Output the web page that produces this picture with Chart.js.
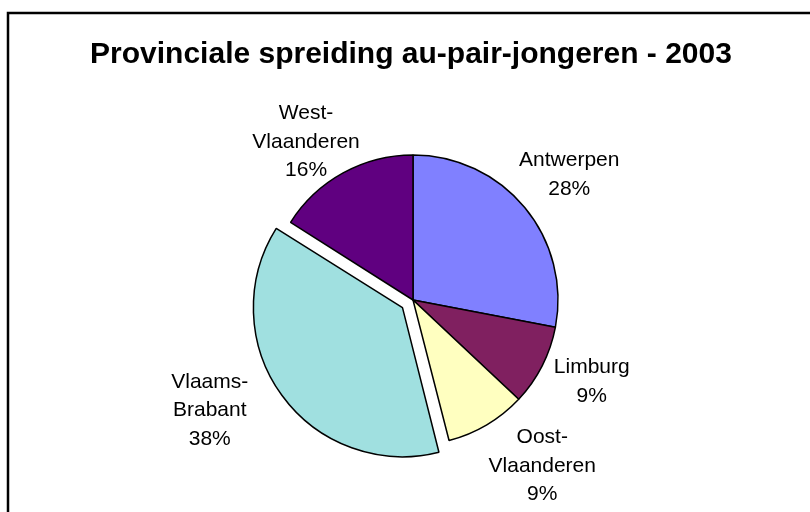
<!DOCTYPE html>
<html lang="nl">
<head>
<meta charset="UTF-8">
<title>Provinciale spreiding au-pair-jongeren - 2003</title>
<script src="https://cdn.jsdelivr.net/npm/chart.js"></script>
<style>
  html, body { margin: 0; padding: 0; background: #fff; }
  canvas { display: block; }
</style>
</head>
<body>
<canvas id="taart" width="810" height="512"></canvas>
<script>
// gegevens
const titel = 'Provinciale spreiding au-pair-jongeren - 2003';
const provincies = ['Antwerpen', 'Limburg', 'Oost-Vlaanderen', 'Vlaams-Brabant', 'West-Vlaanderen'];
const aandeel = [28, 9, 9, 38, 16];
const kleuren = ['#8080FF', '#802060', '#FFFFC0', '#A0E0E0', '#600080'];

const lettertype = '"Liberation Sans", Arial, sans-serif';

// kader + titel achter de grafiek
const kaderPlugin = {
    id: 'kader',
    beforeDraw(chart) {
        const ctx = chart.ctx;
        ctx.save();
        ctx.fillStyle = '#fff';
        ctx.fillRect(0, 0, chart.width, chart.height);
        ctx.strokeStyle = '#000';
        ctx.lineWidth = 2.5;
        ctx.beginPath();
        ctx.moveTo(8, chart.height + 2);
        ctx.lineTo(8, 13);
        ctx.lineTo(chart.width + 2, 13);
        ctx.stroke();
        ctx.fillStyle = '#000';
        ctx.font = 'bold 30px ' + lettertype;
        ctx.textAlign = 'center';
        ctx.textBaseline = 'alphabetic';
        ctx.fillText(titel, 411, 63);
        ctx.restore();
    }
};

// labels buiten de taart: naam + percentage
const labelPlugin = {
    id: 'sliceLabels',
    afterDatasetsDraw(chart, args, opts) {
        const ctx = chart.ctx;
        const meta = chart.getDatasetMeta(0);
        const totaal = aandeel.reduce((a, b) => a + b, 0);
        ctx.save();
        ctx.font = '21px ' + lettertype;
        ctx.fillStyle = '#000';
        ctx.textAlign = 'center';
        ctx.textBaseline = 'middle';
        meta.data.forEach((arc, i) => {
            const p = arc.getProps(['x', 'y', 'startAngle', 'endAngle', 'outerRadius'], true);
            const mid = (p.startAngle + p.endAngle) / 2;
            const uit = (arc.options.offset || 0) / 4;
            const d = p.outerRadius + opts.afstand + uit;
            const n = opts.nudge[i];
            const cx = p.x + Math.cos(mid) * d + n[0];
            const cy = p.y + Math.sin(mid) * d + n[1];
            const regels = provincies[i].replace('-', '-\n').split('\n');
            regels.push(Math.round(aandeel[i] / totaal * 100) + '%');
            const lh = opts.regelHoogte;
            const boven = cy - (regels.length - 1) * lh / 2;
            regels.forEach((t, k) => ctx.fillText(t, cx, boven + k * lh));
        });
        ctx.restore();
    }
};

new Chart(document.getElementById('taart'), {
    type: 'pie',
    data: {
        labels: provincies,
        datasets: [{
            data: aandeel,
            backgroundColor: kleuren,
            borderColor: '#000',
            borderWidth: 1.5,
            offset: [0, 0, 0, 52, 0]
        }]
    },
    options: {
        responsive: false,
        animation: false,
        radius: 145,
        layout: { padding: { left: 20, right: 4, top: 100, bottom: 12 } },
        plugins: {
            legend: { display: false },
            tooltip: { enabled: false },
            title: { display: false },
            sliceLabels: {
                afstand: 50,
                regelHoogte: 28.5,
                nudge: [[6, -1], [5, -7], [30, -2], [-35, -12], [-13, 13]]
            }
        }
    },
    plugins: [kaderPlugin, labelPlugin]
});
</script>
</body>
</html>
